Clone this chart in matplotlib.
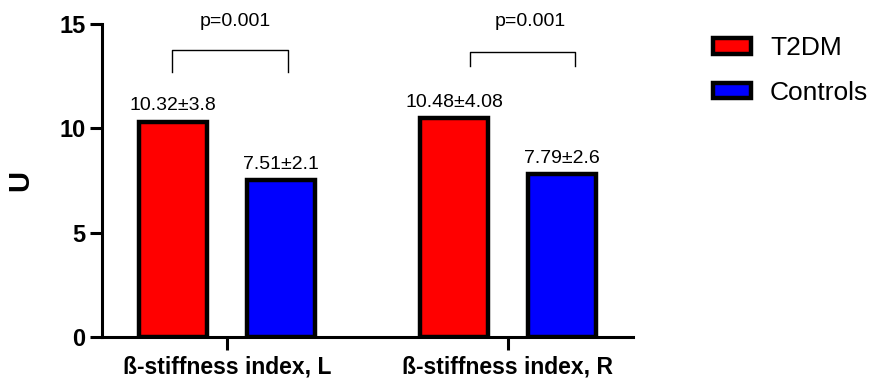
import numpy as np
import matplotlib.pyplot as plt
from matplotlib.patches import Patch

plt.rcParams['font.family'] = ['Liberation Sans', 'DejaVu Sans']

groups = ['ß-stiffness index, L', 'ß-stiffness index, R']
series = ['T2DM', 'Controls']
colors = ['#ff0000', '#0000ff']
t2dm = [10.32, 10.48]
t2dm_sd = [3.8, 4.08]
controls = [7.51, 7.79]
controls_sd = [2.1, 2.6]
p_values = ['p=0.001', 'p=0.001']

fig = plt.figure(figsize=(8.8, 3.81), dpi=100)
ax = fig.add_axes([0.1159, 0.1155, 0.6034, 0.8215])

x = np.arange(len(groups))
w = 0.24
off = 0.192

ax.bar(x - off, t2dm, w, color=colors[0], edgecolor='black', linewidth=3.2, zorder=3)
ax.bar(x + off, controls, w, color=colors[1], edgecolor='black', linewidth=3.2, zorder=3)

for i in range(len(groups)):
    ax.text(x[i] - off, t2dm[i] + 0.35, f'{t2dm[i]:.2f}±{t2dm_sd[i]:g}',
            ha='center', va='bottom', fontsize=14)
    ax.text(x[i] + off, controls[i] + 0.35, f'{controls[i]:.2f}±{controls_sd[i]:g}',
            ha='center', va='bottom', fontsize=14)

# significance brackets (relative to group centre)
br_left = [-0.196, -0.135]
br_right = [0.217, 0.238]
br_top = [13.75, 13.66]
br_low = [12.7, 12.99]
p_x = [0.028, 0.078]
for i in range(len(groups)):
    x0, x1 = x[i] + br_left[i], x[i] + br_right[i]
    ax.plot([x0, x0, x1, x1], [br_low[i], br_top[i], br_top[i], br_low[i]],
            color='black', linewidth=1, clip_on=False)
    ax.text(x[i] + p_x[i], 15.1, p_values[i], ha='center', va='center', fontsize=14)

ax.set_xlim(-0.445, 1.445)
ax.set_ylim(0, 15)
ax.set_yticks([0, 5, 10, 15])
ax.set_xticks(x)
ax.set_xticklabels(groups, fontsize=16.5, fontweight='bold')
ax.tick_params(axis='y', labelsize=17, width=2.2, length=9, pad=3)
for lab in ax.get_yticklabels():
    lab.set_fontweight('bold')
ax.tick_params(axis='x', width=2.2, length=9, pad=4)
ax.set_ylabel('U', fontsize=21, fontweight='bold', labelpad=18)

for s in ['top', 'right']:
    ax.spines[s].set_visible(False)
for s in ['left', 'bottom']:
    ax.spines[s].set_linewidth(2.2)

handles = [Patch(facecolor=c, edgecolor='black', linewidth=3.2) for c in colors]
fig.legend(handles, series, loc='upper left', bbox_to_anchor=(713 / 880, 0.905),
           frameon=False, fontsize=19, handlelength=1.44, handleheight=0.53,
           labelspacing=0.78, handletextpad=0.72, borderpad=0, borderaxespad=0)

fig.savefig('out.png', dpi=100)
